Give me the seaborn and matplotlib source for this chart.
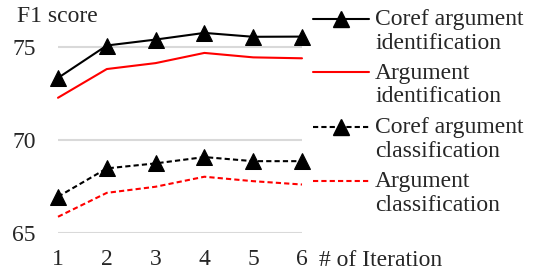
import numpy as np
import pandas as pd
import matplotlib
matplotlib.use("Agg")
import matplotlib.pyplot as plt
import seaborn as sns
from matplotlib.lines import Line2D

# data
iterations = [1, 2, 3, 4, 5, 6]
coref_arg_ident = [73.35, 75.1, 75.42, 75.78, 75.57, 75.58]
arg_ident = [72.28, 73.83, 74.15, 74.7, 74.46, 74.41]
coref_arg_class = [66.94, 68.47, 68.74, 69.08, 68.86, 68.86]
arg_class = [65.86, 67.15, 67.48, 68.02, 67.78, 67.6]
series_labels = ["Coref argument\nidentification", "Argument\nidentification",
                 "Coref argument\nclassification", "Argument\nclassification"]
y_ticks = [65, 70, 75]

sns.set_style("white")
plt.rcParams['font.family'] = ['Liberation Serif', 'DejaVu Serif']
plt.rcParams['font.size'] = 17

W, H = 534, 273
fig = plt.figure(figsize=(W / 100, H / 100), dpi=100)
ax = fig.add_axes([58 / W, 0.1476, (302 - 58) / W, 0.7604])

df = pd.DataFrame({
    "iteration": iterations * 4,
    "score": coref_arg_ident + arg_ident + coref_arg_class + arg_class,
    "series": np.repeat(series_labels, len(iterations)),
})

dash = (0, (2.5, 1.5))
styles = [
    dict(color="black", marker="^", linestyle="-"),
    dict(color="#ff0000", marker=None, linestyle="-"),
    dict(color="black", marker="^", linestyle=dash),
    dict(color="#ff0000", marker=None, linestyle=dash),
]

for lab, st in zip(series_labels, styles):
    sub = df[df["series"] == lab]
    sns.lineplot(data=sub, x="iteration", y="score", ax=ax, color=st["color"],
                 marker=st["marker"], linestyle=st["linestyle"], linewidth=1.5,
                 markersize=12, markeredgecolor="black", clip_on=False, zorder=3)

ax.set_xlim(1, 6)
ax.set_ylim(65, 76.2)
ax.set_yticks(y_ticks)
ax.set_xticks(iterations)
ax.grid(axis="y", color="#d9d9d9", linewidth=1.5)
ax.grid(axis="x", visible=False)
for s in ax.spines.values():
    s.set_visible(False)
ax.tick_params(axis="y", length=0, pad=16, labelsize=17)
ax.tick_params(axis="x", length=0, pad=12, labelsize=17)
ax.set_xlabel("")
ax.set_ylabel("")

fig.text(17 / W, 1 - 16 / H, "F1 score", fontsize=17, va="center", ha="left")
fig.text(319 / W, 1 - 261 / H, "# of Iteration", fontsize=17, va="center", ha="left")

# manual legend (handle sits on the first text line)
leg_y = [18.5, 72, 126.5, 180.5]
for lab, st, yy in zip(series_labels, styles, leg_y):
    yf = 1 - yy / H
    fig.add_artist(Line2D([313 / W, 369 / W], [yf, yf], color=st["color"],
                          linestyle=st["linestyle"], linewidth=1.5,
                          transform=fig.transFigure))
    if st["marker"]:
        fig.add_artist(Line2D([341 / W], [yf], color="black", marker="^",
                              markersize=12, transform=fig.transFigure))
    fig.text(375 / W, 1 - (yy - 9) / H, lab, fontsize=17, va="top", ha="left",
             linespacing=1.15, transform=fig.transFigure)

fig.savefig("out.png", dpi=100)
